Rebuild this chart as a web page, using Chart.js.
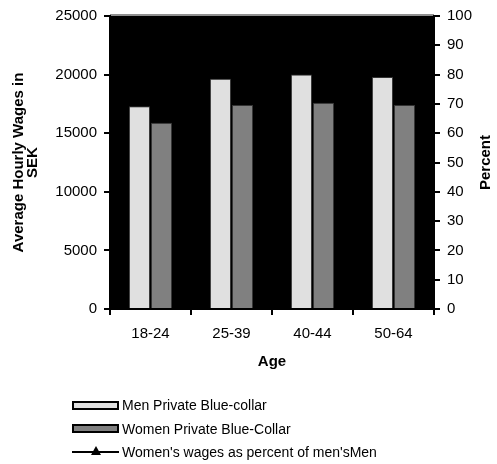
<!DOCTYPE html>
<html>
<head>
<meta charset="utf-8">
<script src="https://cdn.jsdelivr.net/npm/chart.js@4.4.0/dist/chart.umd.min.js"></script>
<style>
  html, body { margin: 0; padding: 0; background: #fff; }
  #wrap { position: relative; width: 497px; height: 464px; overflow: hidden; }
  #chart { position: absolute; left: 0; top: 0; }
  #legend { position: absolute; left: 72px; top: 0; font-family: "Liberation Sans", Arial, sans-serif; font-size: 14px; color: #000; }
  .row { position: absolute; left: 0; display: flex; align-items: center; white-space: nowrap; height: 20px; }
  .swatch { position: relative; width: 47px; height: 9px; box-sizing: border-box; margin-right: 3px; flex: none; }
  .swatch.box { border: 2px solid #000; }
  .swatch.line::before { content: ""; position: absolute; left: 0; right: 0; top: 4px; height: 1.5px; background: #000; }
  .swatch.line::after { content: ""; position: absolute; left: 19px; top: -1px; width: 0; height: 0;
    border-left: 5px solid transparent; border-right: 5px solid transparent; border-bottom: 9px solid #000; }
</style>
</head>
<body>
<div id="wrap">
  <canvas id="chart" width="497" height="464"></canvas>
  <div id="legend"></div>
</div>
<script>
// Age groups on the category axis
const ageGroups = ['18-24', '25-39', '40-44', '50-64'];

// Average hourly wages (SEK)
const menWages = [17300, 19650, 20000, 19800];
const womenWages = [15900, 17400, 17600, 17400];

// Women's wages as percent of men's
const womenPctOfMen = [92, 89, 88, 88];

// Axis tick values
const wageTicks = [0, 5000, 10000, 15000, 20000, 25000];
const pctTicks = [0, 10, 20, 30, 40, 50, 60, 70, 80, 90, 100];

// Series names and axis titles
const seriesNames = [
  'Men Private Blue-collar',
  'Women Private Blue-Collar',
  "Women's wages as percent of men'sMen"
];
const wageAxisTitle = ['Average Hourly Wages in', 'SEK'];
const pctAxisTitle = 'Percent';
const ageAxisTitle = 'Age';

const FONT = '"Liberation Sans", Arial, Helvetica, sans-serif';
const tickFont = { family: FONT, size: 15 };
const titleFont = { family: FONT, size: 15, weight: 'bold', lineHeight: 0.93 };

// Black plot area with a grey rule along its top edge
const plotBackground = {
  id: 'plotBackground',
  beforeDraw(chart) {
    const { ctx, chartArea } = chart;
    const { left, top, right, bottom } = chartArea;
    ctx.save();
    ctx.fillStyle = '#000';
    ctx.fillRect(left, top, right - left, bottom - top);
    ctx.strokeStyle = '#8f8f8f';
    ctx.lineWidth = 2;
    ctx.beginPath();
    ctx.moveTo(left, top - 1);
    ctx.lineTo(right, top - 1);
    ctx.stroke();
    ctx.restore();
  }
};

// Right-axis title, reading bottom to top like the left one
const rightAxisTitle = {
  id: 'rightAxisTitle',
  afterDraw(chart) {
    const { ctx, chartArea } = chart;
    const s = chart.scales.y1;
    ctx.save();
    ctx.translate(s.right - 11, (chartArea.top + chartArea.bottom) / 2);
    ctx.rotate(-Math.PI / 2);
    ctx.font = 'bold 15px ' + FONT;
    ctx.fillStyle = '#000';
    ctx.textAlign = 'center';
    ctx.textBaseline = 'middle';
    ctx.fillText(pctAxisTitle, 0, 0);
    ctx.restore();
  }
};

function fixedTicks(values) {
  return (scale) => { scale.ticks = values.map(v => ({ value: v })); };
}
const plainNumber = (v) => String(v);

const axisGrid = { drawOnChartArea: false, drawTicks: true, tickLength: 6, color: '#000', lineWidth: 2 };
const axisBorder = { display: true, color: '#000', width: 2 };

const chart = new Chart(document.getElementById('chart'), {
  type: 'bar',
  data: {
    labels: ageGroups,
    datasets: [
      {
        label: seriesNames[0],
        data: menWages,
        yAxisID: 'y',
        backgroundColor: '#e0e0e0',
        borderColor: '#333',
        borderWidth: 1,
        categoryPercentage: 0.545,
        barPercentage: 0.96,
        order: 2
      },
      {
        label: seriesNames[1],
        data: womenWages,
        yAxisID: 'y',
        backgroundColor: '#808080',
        borderColor: '#333',
        borderWidth: 1,
        categoryPercentage: 0.545,
        barPercentage: 0.96,
        order: 2
      },
      {
        type: 'line',
        label: seriesNames[2],
        data: womenPctOfMen,
        yAxisID: 'y1',
        borderColor: '#000',
        borderWidth: 2,
        pointStyle: 'triangle',
        pointRadius: 5,
        pointBackgroundColor: '#000',
        pointBorderColor: '#000',
        order: 0
      }
    ]
  },
  options: {
    responsive: false,
    animation: false,
    layout: { padding: { top: 15, left: 0, right: 0, bottom: 89 } },
    plugins: { legend: { display: false }, tooltip: { enabled: false } },
    scales: {
      x: {
        grid: Object.assign({ offset: true }, axisGrid),
        border: axisBorder,
        ticks: { font: tickFont, color: '#000', padding: 10 },
        title: { display: true, text: ageAxisTitle, font: titleFont, color: '#000', padding: { top: 0, bottom: 6 } },
        afterFit: (s) => { s.height = 66; }
      },
      y: {
        position: 'left',
        min: 0,
        max: 25000,
        afterBuildTicks: fixedTicks(wageTicks),
        grid: axisGrid,
        border: axisBorder,
        ticks: { font: tickFont, color: '#000', padding: 7, callback: plainNumber },
        title: { display: true, text: wageAxisTitle, font: titleFont, color: '#000', padding: { top: 12, bottom: 0 } },
        afterFit: (s) => { s.width = 110; }
      },
      y1: {
        position: 'right',
        min: 0,
        max: 100,
        afterBuildTicks: fixedTicks(pctTicks),
        grid: axisGrid,
        border: axisBorder,
        ticks: { font: tickFont, color: '#000', padding: 7, callback: plainNumber },
        title: { display: false },
        afterFit: (s) => { s.width = 63; }
      }
    }
  },
  plugins: [plotBackground, rightAxisTitle]
});

// Legend below the chart, one entry per row
const legend = document.getElementById('legend');
const rowTops = [395, 418.5, 441.5];
chart.data.datasets.forEach((ds, i) => {
  const row = document.createElement('div');
  row.className = 'row';
  row.style.top = rowTops[i] + 'px';
  const sw = document.createElement('span');
  if (ds.type === 'line') {
    sw.className = 'swatch line';
  } else {
    sw.className = 'swatch box';
    sw.style.background = ds.backgroundColor;
  }
  const txt = document.createElement('span');
  txt.textContent = ds.label;
  row.appendChild(sw);
  row.appendChild(txt);
  legend.appendChild(row);
});
</script>
</body>
</html>
